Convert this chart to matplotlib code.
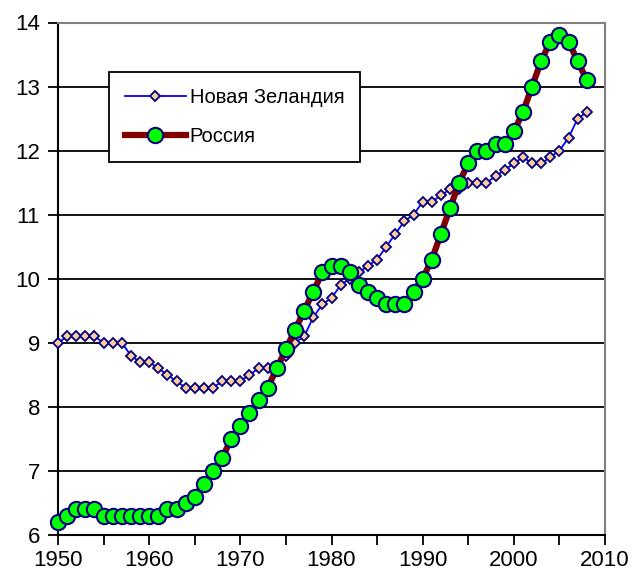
import numpy as np
import matplotlib
matplotlib.use('Agg')
import matplotlib.pyplot as plt
from matplotlib.ticker import MultipleLocator

plt.rcParams['font.family'] = ['Liberation Sans', 'DejaVu Sans']

years = np.arange(1950, 2009)

# Новая Зеландия
nz = [9.0, 9.1, 9.1, 9.1, 9.1, 9.0, 9.0, 9.0, 8.8, 8.7,
      8.7, 8.6, 8.5, 8.4, 8.3, 8.3, 8.3, 8.3, 8.4, 8.4,
      8.4, 8.5, 8.6, 8.6, 8.6, 8.8, 9.0, 9.1, 9.4, 9.6,
      9.7, 9.9, 10.0, 10.1, 10.2, 10.3, 10.5, 10.7, 10.9, 11.0,
      11.2, 11.2, 11.3, 11.4, 11.4, 11.5, 11.5, 11.5, 11.6, 11.7,
      11.8, 11.9, 11.8, 11.8, 11.9, 12.0, 12.2, 12.5, 12.6]

# Россия
ru = [6.2, 6.3, 6.4, 6.4, 6.4, 6.3, 6.3, 6.3, 6.3, 6.3,
      6.3, 6.3, 6.4, 6.4, 6.5, 6.6, 6.8, 7.0, 7.2, 7.5,
      7.7, 7.9, 8.1, 8.3, 8.6, 8.9, 9.2, 9.5, 9.8, 10.1,
      10.2, 10.2, 10.1, 9.9, 9.8, 9.7, 9.6, 9.6, 9.6, 9.8,
      10.0, 10.3, 10.7, 11.1, 11.5, 11.8, 12.0, 12.0, 12.1, 12.1,
      12.3, 12.6, 13.0, 13.4, 13.7, 13.8, 13.7, 13.4, 13.1]

labels = ['Новая Зеландия', 'Россия']

fig = plt.figure(figsize=(6.37, 5.76), dpi=100)
ax = fig.add_axes([58/637, 41/576, 547/637, 512.5/576])

ax.plot(years, nz, color='#0000ff', lw=1.3, marker='D', ms=5,
        mfc='#ffcc99', mec='#000080', mew=1.3, label=labels[0],
        zorder=3, clip_on=False)
ax.plot(years, ru, color='#800000', lw=4.5, marker='o', ms=11,
        mfc='#00ff00', mec='#000080', mew=1.5, label=labels[1],
        zorder=4, clip_on=False)

ax.set_xlim(1950, 2010)
ax.set_ylim(6, 14)
ax.xaxis.set_major_locator(MultipleLocator(10))
ax.xaxis.set_minor_locator(MultipleLocator(5))
ax.yaxis.set_major_locator(MultipleLocator(1))
ax.grid(axis='y', color='black', lw=1.3, zorder=1)
ax.set_axisbelow(True)

for s in ['left', 'bottom']:
    ax.spines[s].set_color('black')
    ax.spines[s].set_linewidth(1.5)
for s in ['top', 'right']:
    ax.spines[s].set_color('#808080')
    ax.spines[s].set_linewidth(1.5)

ax.tick_params(axis='both', which='both', direction='out', length=7,
               width=1.3, labelsize=16, color='black')
ax.tick_params(axis='x', which='minor', labelbottom=False)
ax.tick_params(axis='y', pad=6)

leg = ax.legend(loc='upper left', bbox_to_anchor=(109/637, 1 - 72/576),
                bbox_transform=fig.transFigure, fontsize=14.5, frameon=True,
                fancybox=False, edgecolor='black', framealpha=1,
                handlelength=3.0, handletextpad=0.2, borderpad=0.8,
                labelspacing=1.0, borderaxespad=0)
leg.get_frame().set_linewidth(1.3)
leg.set_zorder(5)

fig.savefig('out.png', dpi=100)
